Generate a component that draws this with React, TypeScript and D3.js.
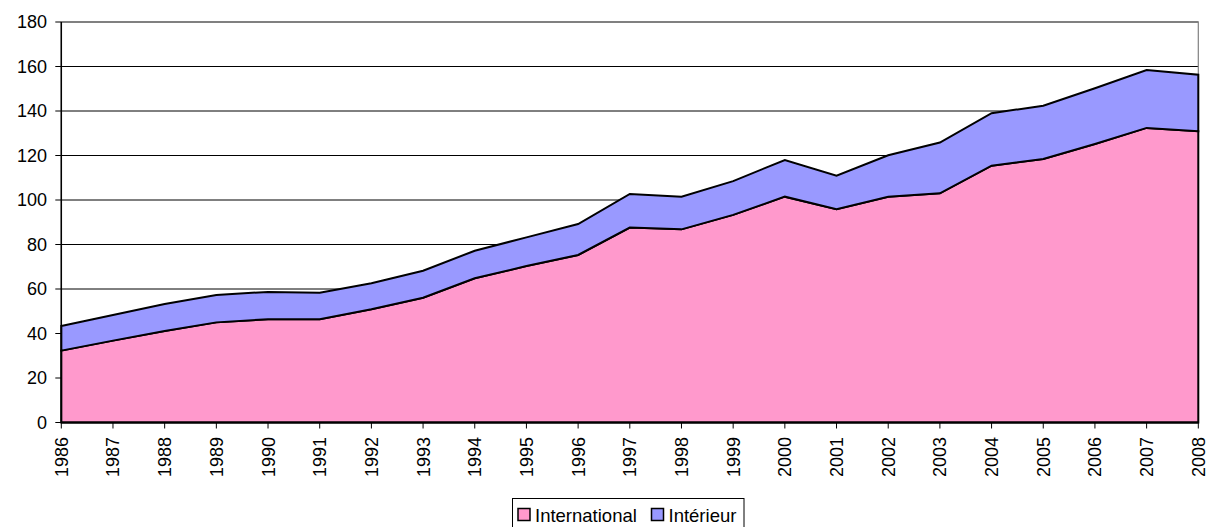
import React from "react";
import * as d3 from "d3";

const years: number[] = [1986, 1987, 1988, 1989, 1990, 1991, 1992, 1993, 1994, 1995, 1996, 1997, 1998, 1999, 2000, 2001, 2002, 2003, 2004, 2005, 2006, 2007, 2008];
const international: number[] = [32.3, 36.8, 41.1, 45.0, 46.4, 46.4, 50.9, 56.1, 64.8, 70.3, 75.3, 87.6, 86.8, 93.3, 101.5, 95.8, 101.5, 103.0, 115.4, 118.4, 125.2, 132.4, 130.9];
const interieur: number[] = [11.1, 11.5, 12.2, 12.3, 12.3, 11.9, 11.7, 12.1, 12.4, 12.9, 13.9, 15.1, 14.7, 15.2, 16.5, 15.1, 18.6, 22.8, 23.6, 24.0, 25.0, 26.0, 25.4];
const yTicks: number[] = [0, 20, 40, 60, 80, 100, 120, 140, 160, 180];
const seriesNames: string[] = ["International", "Intérieur"];
const seriesColors: string[] = ["#FF99CC", "#9999FF"];

const W = 1209;
const H = 527;
const left = 61.3;
const right = 1198.3;
const top = 22;
const bottom = 422.5;
const FONT = "Arial, 'Liberation Sans', sans-serif";

export default function App() {
  const x = d3.scaleLinear().domain([years[0], years[years.length - 1]]).range([left, right]);
  const y = d3.scaleLinear().domain([0, 180]).range([bottom, top]);

  const rows = years.map((yr, i) => ({ year: yr, International: international[i], "Intérieur": interieur[i] }));
  const stacked = d3.stack<any>().keys(seriesNames)(rows);

  const area = d3
    .area<any>()
    .x((d) => x(d.data.year))
    .y0((d) => y(d[0]))
    .y1((d) => y(d[1]));

  return (
    <svg width={W} height={H} style={{ position: "absolute", left: 0, top: 0, background: "#fff" }} fontFamily={FONT}>
      {yTicks.map((t) => (
        <line key={"g" + t} x1={left} x2={right} y1={y(t)} y2={y(t)} stroke="#000" strokeWidth={1} />
      ))}
      <rect x={left} y={top} width={right - left} height={bottom - top} fill="none" stroke="#808080" strokeWidth={1.2} />
      {stacked.map((s, i) => (
        <path key={s.key} d={area(s) || ""} fill={seriesColors[i]} stroke="#000" strokeWidth={2} strokeLinejoin="miter" />
      ))}
      <line x1={left} x2={left} y1={top} y2={bottom} stroke="#000" strokeWidth={1.5} />
      {yTicks.map((t) => (
        <g key={"y" + t}>
          <line x1={left - 6} x2={left} y1={y(t)} y2={y(t)} stroke="#000" strokeWidth={1} />
          <text x={47} y={y(t)} dy="0.36em" textAnchor="end" fontSize={18} fill="#000">
            {t}
          </text>
        </g>
      ))}
      <line x1={left} x2={right} y1={bottom} y2={bottom} stroke="#000" strokeWidth={2} />
      {years.map((yr) => (
        <g key={"x" + yr}>
          <line x1={x(yr)} x2={x(yr)} y1={bottom} y2={bottom + 6} stroke="#000" strokeWidth={1} />
          <text
            transform={`translate(${x(yr)},${437}) rotate(-90)`}
            dy="0.36em"
            textAnchor="end"
            fontSize={18}
            fill="#000"
          >
            {yr}
          </text>
        </g>
      ))}
      <rect x={512.5} y={498.5} width={231.5} height={30} fill="#fff" stroke="#000" strokeWidth={1} />
      {seriesNames.map((name, i) => {
        const sx = i === 0 ? 518 : 651.5;
        return (
          <g key={"l" + name}>
            <rect x={sx} y={508.5} width={12} height={12} fill={seriesColors[i]} stroke="#000" strokeWidth={1.5} />
            <text x={sx + 17} y={521.5} fontSize={18.5} fill="#000">
              {name}
            </text>
          </g>
        );
      })}
    </svg>
  );
}
